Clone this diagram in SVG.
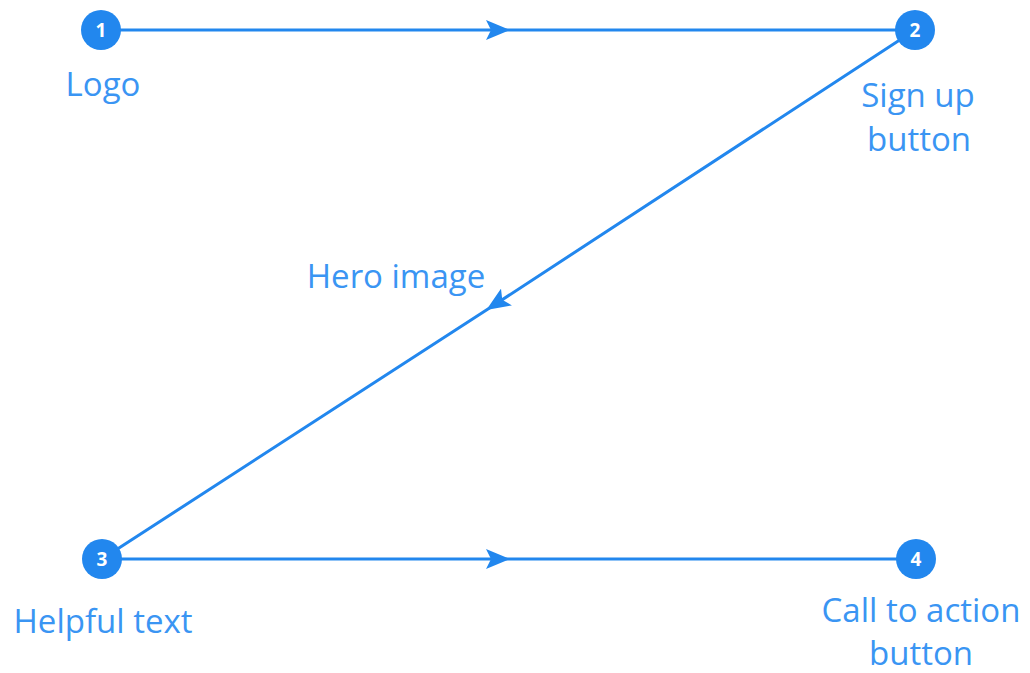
<svg xmlns="http://www.w3.org/2000/svg" width="1030" height="673" viewBox="0 0 1030 673">
  <style>
    .link { fill: none; stroke: #2287ee; stroke-width: 3; }
    .dot { fill: #2287ee; }
    .num { fill: #ffffff; font-family: "Open Sans", "DejaVu Sans", sans-serif; font-weight: 700; font-size: 19px; text-anchor: middle; }
    .label { fill: #3a95f3; font-family: "Open Sans", "Lato", sans-serif; font-size: 33px; text-anchor: middle; }
  </style>
  <defs>
    <marker id="arrow" viewBox="0 0 24 20" refX="22" refY="10" markerWidth="24" markerHeight="20" markerUnits="userSpaceOnUse" orient="auto">
      <path d="M0,0 L24,10 L0,20 L5,10 Z" fill="#2287ee"/>
    </marker>
  </defs>
  <rect width="1030" height="673" fill="#ffffff"/>

  <!-- reading path between the numbered steps -->
  <g id="connectors">
    <path class="link" d="M101,30 L508,30 L915,30" marker-mid="url(#arrow)"/>
    <path class="link" d="M915,30 L488,309 L102,559" marker-mid="url(#arrow)"/>
    <path class="link" d="M102,559 L508,559 L916,559" marker-mid="url(#arrow)"/>
  </g>

  <g id="step1">
    <circle class="dot" cx="101" cy="30" r="20"/>
    <text class="num" x="101" y="37">1</text>
    <text class="label" x="103" y="96">Logo</text>
  </g>

  <g id="step2">
    <circle class="dot" cx="915" cy="30" r="20"/>
    <text class="num" x="915" y="37">2</text>
    <text class="label" x="918" y="107">Sign up</text>
    <text class="label" x="919" y="151">button</text>
  </g>

  <g id="hero">
    <text class="label" x="396" y="288">Hero image</text>
  </g>

  <g id="step3">
    <circle class="dot" cx="102" cy="559" r="20"/>
    <text class="num" x="102" y="566">3</text>
    <text class="label" x="103" y="633">Helpful text</text>
  </g>

  <g id="step4">
    <circle class="dot" cx="916" cy="559" r="20"/>
    <text class="num" x="916" y="566">4</text>
    <text class="label" x="921" y="622">Call to action</text>
    <text class="label" x="921" y="665">button</text>
  </g>
</svg>
